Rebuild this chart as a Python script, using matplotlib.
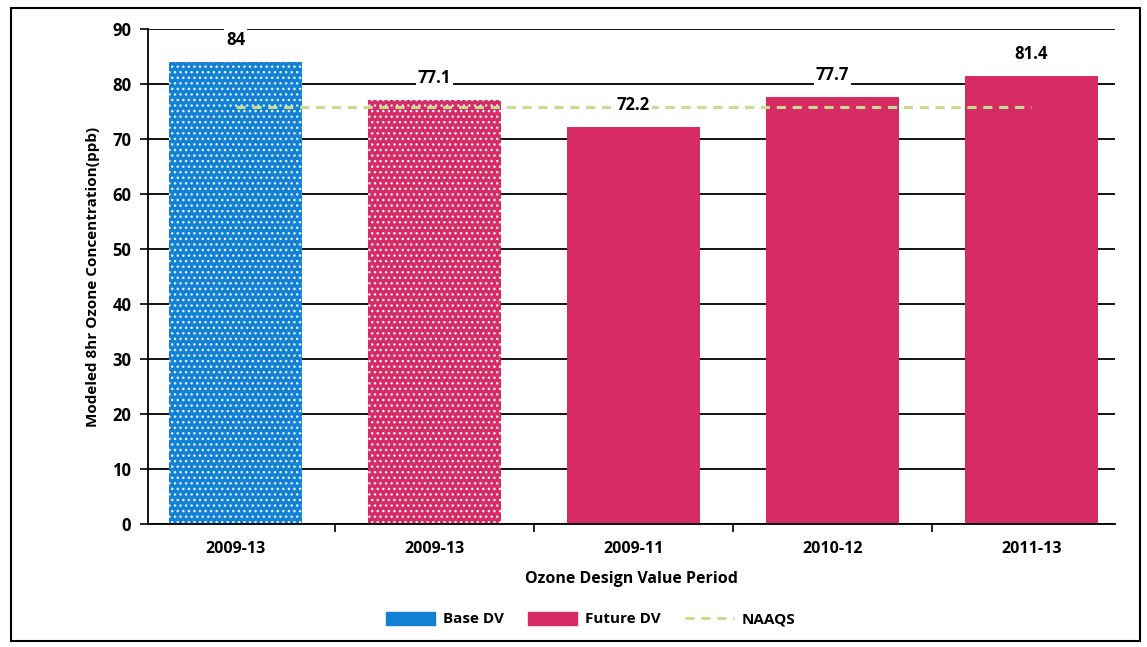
import matplotlib.pyplot as plt
from matplotlib.patches import Patch, Rectangle
from matplotlib.lines import Line2D
import numpy as np

plt.rcParams['font.family'] = ['Open Sans', 'DejaVu Sans']
plt.rcParams['font.weight'] = 'bold'
plt.rcParams['hatch.linewidth'] = 1.0

periods = ["2009-13", "2009-13", "2009-11", "2010-12", "2011-13"]
values = [84, 77.1, 72.2, 77.7, 81.4]
labels = ["84", "77.1", "72.2", "77.7", "81.4"]
naaqs = 75.8
blue = "#1381d3"
pink = "#d62b63"
colors = [blue, pink, pink, pink, pink]
hatches = ["...", "...", "", "", ""]

fig = plt.figure(figsize=(11.47, 6.47), dpi=100)
ax = fig.add_axes([0.129, 0.19, 0.843, 0.765])

x = np.arange(len(values))
for i in x:
    ax.bar(i, values[i], width=0.67, color=colors[i], hatch=hatches[i],
           edgecolor="#e8f0ff", linewidth=0, zorder=2)
    ax.text(i, values[i] + 2.4, labels[i], ha="center", va="bottom", fontsize=12,
            fontweight="bold", zorder=4,
            bbox=dict(facecolor="white", edgecolor="none", pad=1.5))

ax.plot([0, 4], [naaqs, naaqs], ls=(0, (3, 2.2)), color="#c6dd91", lw=2.2, zorder=3)

ax.set_ylim(0, 90)
ax.set_xlim(-0.44, 4.42)
ax.set_yticks(range(0, 91, 10))
ax.yaxis.grid(True, color="black", lw=1.3, zorder=0)
ax.set_axisbelow(True)
ax.set_xticks(x)
ax.set_xticklabels(periods, fontsize=11.5, fontweight="bold")
ax.set_xticks(np.arange(0.5, 4.5, 1), minor=True)
ax.tick_params(axis="x", which="major", length=0, pad=12)
ax.tick_params(axis="x", which="minor", length=6, width=1.2, direction="out")
ax.tick_params(axis="y", length=6, width=1.2, labelsize=12, pad=6)
for lab in ax.get_yticklabels():
    lab.set_fontweight("bold")
for s in ["top", "right"]:
    ax.spines[s].set_visible(False)
ax.spines["left"].set_linewidth(1.3)
ax.spines["bottom"].set_linewidth(1.3)

ax.set_xlabel("Ozone Design Value Period", fontsize=11.5, fontweight="bold", labelpad=10)
ax.set_ylabel("Modeled 8hr Ozone Concentration(ppb)", fontsize=11, fontweight="bold", labelpad=9)

handles = [Patch(color=blue, label="Base DV"),
           Patch(color=pink, label="Future DV"),
           Line2D([0], [0], color="#c6dd91", lw=2.2, ls=(0, (3, 2.2)), label="NAAQS")]
fig.legend(handles=handles, loc="center", bbox_to_anchor=(0.515, 0.043), ncol=3,
           frameon=False, fontsize=11, handlelength=3.2, handleheight=0.9,
           columnspacing=1.6, handletextpad=0.5)

fig.add_artist(Rectangle((0.01, 0.01), 0.984, 0.978, transform=fig.transFigure,
                         fill=False, lw=1.5, edgecolor="black"))

fig.savefig("out.png", dpi=100)
